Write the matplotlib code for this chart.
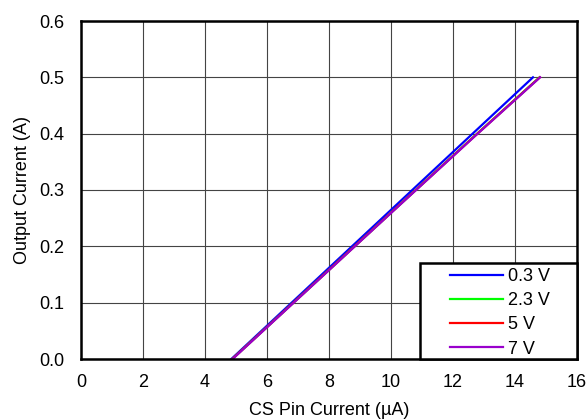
import matplotlib
matplotlib.use("Agg")
import matplotlib.pyplot as plt
from matplotlib.patches import Rectangle

plt.rcParams['font.family'] = ['Liberation Sans', 'DejaVu Sans']

labels = ["0.3 V", "2.3 V", "5 V", "7 V"]
colors = ["#0000ff", "#00ff00", "#ff0000", "#9900cc"]
cs_current = [
    [4.85, 7.0, 10.0, 12.5, 14.58],
    [4.88, 7.06, 10.1, 12.64, 14.79],
    [4.88, 7.06, 10.1, 12.65, 14.8],
    [4.89, 7.07, 10.11, 12.66, 14.81],
]
out_current = [
    [0.0, 0.1105, 0.2647, 0.3932, 0.5],
    [0.0, 0.1105, 0.2647, 0.3932, 0.5],
    [0.0, 0.1105, 0.2647, 0.3932, 0.5],
    [0.0, 0.1105, 0.2647, 0.3932, 0.5],
]
xticks = [0, 2, 4, 6, 8, 10, 12, 14, 16]
yticks = [0.0, 0.1, 0.2, 0.3, 0.4, 0.5, 0.6]

W, H = 588, 420
L, R, T, B = 81, 577, 21, 359
fig = plt.figure(figsize=(W / 100, H / 100), dpi=100)
ax = fig.add_axes([L / W, 1 - B / H, (R - L) / W, (B - T) / H])

for xs, ys, c, l in zip(cs_current, out_current, colors, labels):
    ax.plot(xs, ys, color=c, lw=1.6, label=l)

ax.set_xlim(0, 16)
ax.set_ylim(0, 0.6)
ax.set_xticks(xticks)
ax.set_yticks(yticks)
ax.set_yticklabels([f"{v:.1f}" for v in yticks])
ax.grid(True, color="#444444", lw=0.8)
ax.set_axisbelow(True)
ax.tick_params(length=0, labelsize=13)
ax.tick_params(axis="y", pad=12)
ax.tick_params(axis="x", pad=11)
for s in ax.spines.values():
    s.set_linewidth(1.8)
ax.set_xlabel("CS Pin Current (µA)", fontsize=13, labelpad=8)
ax.set_ylabel("Output Current (A)", fontsize=13, labelpad=6)


def fx(px):
    return (px - L) / (R - L)


def fy(py):
    return (B - py) / (B - T)


box = Rectangle((fx(420), 0), 1 - fx(420), fy(263), transform=ax.transAxes,
                facecolor="white", edgecolor="black", lw=1.8, zorder=4,
                clip_on=False)
ax.add_patch(box)

leg = ax.legend(loc="upper left", bbox_to_anchor=(fx(450), fy(268)),
                fontsize=13, frameon=False, borderaxespad=0, borderpad=0,
                handlelength=2.93, handletextpad=0.28, labelspacing=0.4)
leg.set_zorder(6)

fig.savefig("out.png", dpi=100)
